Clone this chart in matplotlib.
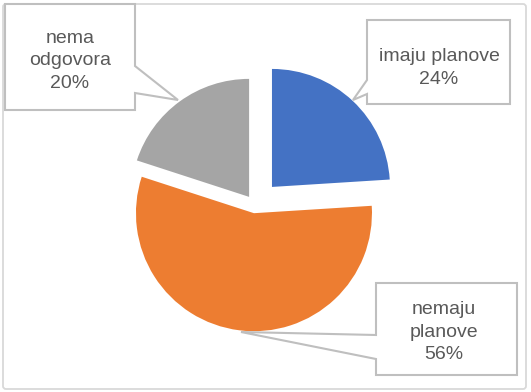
import matplotlib.pyplot as plt
from matplotlib.patches import Polygon, FancyBboxPatch

labels = ['imaju planove', 'nemaju\nplanove', 'nema\nodgovora']
values = [24, 56, 20]
colors = ['#4472C4', '#ED7D31', '#A5A5A5']

W, H = 531, 392
R = 118
fig = plt.figure(figsize=(W / 100, H / 100), dpi=100)
ax = fig.add_axes([0, 0, 1, 1])

def Y(y):
    # pixel rows from the top -> data y
    return H - y

# explode is in data units here (pixels)
ax.pie(values, colors=colors, explode=[0.21 * R, 0.07 * R, 0.085 * R], startangle=90,
       counterclock=False, center=(255, Y(205)), radius=R,
       wedgeprops=dict(linewidth=0))
ax.set_xlim(0, W)
ax.set_ylim(0, H)
ax.set_aspect('equal')
ax.axis('off')

# outer frame
ax.add_patch(FancyBboxPatch((3, Y(389)), 523, 385, boxstyle='round,pad=0,rounding_size=3',
                            fill=False, edgecolor='#d9d9d9', linewidth=1.3))

# callout boxes: (x0, y0, x1, y1, side, wedge y0, wedge y1, tip, text x, last baseline)
callouts = [
    (367, 20, 510, 104, 'left', 80, 94, (353, 100), 439, 83.5),
    (376, 283, 517, 375, 'left', 335, 359, (241, 332), 444, 359),
    (5, 4, 135, 110, 'right', 66, 93, (178, 100), 70, 87.5),
]
step = 22.3

for i, (x0, y0, x1, y1, side, w0, w1, tip, tx, ty) in enumerate(callouts):
    if side == 'left':
        pts = [(x0, y0), (x1, y0), (x1, y1), (x0, y1), (x0, w1), tip, (x0, w0)]
    else:
        pts = [(x0, y0), (x1, y0), (x1, w0), tip, (x1, w1), (x1, y1), (x0, y1)]
    pts = [(px, Y(py)) for px, py in pts]
    ax.add_patch(Polygon(pts, closed=True, facecolor='white', edgecolor='#bfbfbf',
                         linewidth=1.5, zorder=3))
    lines = labels[i].split('\n') + [f'{values[i]}%']
    n = len(lines)
    for j, line in enumerate(lines):
        ax.text(tx, Y(ty - (n - 1 - j) * step), line, ha='center', va='baseline',
                fontsize=14, color='#595959', family='Liberation Sans', zorder=4)

fig.savefig('out.png', dpi=100)
